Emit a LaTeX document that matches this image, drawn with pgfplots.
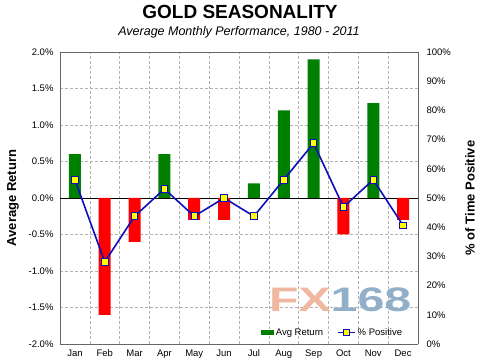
\documentclass[border=0pt]{standalone}
\usepackage{pgfplots}
\pgfplotsset{compat=1.18}
\usepackage{fontspec}
\setmainfont{Liberation Sans}
\definecolor{bargreen}{RGB}{0,128,0}
\definecolor{barred}{RGB}{255,0,0}
\definecolor{linblue}{RGB}{15,15,185}
\definecolor{mkyellow}{RGB}{255,255,0}
\definecolor{fxsalmon}{RGB}{240,184,160}
\definecolor{fxblue}{RGB}{145,175,200}
\begin{document}
\begin{tikzpicture}
\path[use as bounding box] (0pt,0pt) rectangle (485pt,363pt);
\node[font=\fontsize{19}{19}\selectfont\bfseries] at (240pt,351pt) {GOLD SEASONALITY};
\node[font=\fontsize{12.5}{13}\selectfont\itshape] at (239pt,331pt) {Average Monthly Performance, 1980 - 2011};
\begin{axis}[
  at={(60pt,19pt)}, anchor=south west,
  scale only axis, width=358pt, height=292pt,
  xmin=0.5, xmax=12.5, ymin=-2, ymax=2,
  axis y line*=left,
  xtick={1,...,12},
  xticklabels={Jan,Feb,Mar,Apr,May,Jun,Jul,Aug,Sep,Oct,Nov,Dec},
  minor xtick={1.5,2.5,...,11.5},
  xmajorgrids=false, xminorgrids=true,
  major tick length=0pt, minor tick length=0pt,
  ytick={-2,-1.5,...,2},
  yticklabels={-2.0\%,-1.5\%,-1.0\%,-0.5\%,0.0\%,0.5\%,1.0\%,1.5\%,2.0\%},
  ymajorgrids=true,
  grid style={gray!60, densely dashed, line width=0.4pt},
  minor grid style={gray!60, densely dashed, line width=0.4pt},
  axis line style={gray!80!black, line width=0.8pt},
  tick label style={font=\fontsize{9.5}{10}\selectfont},
  xticklabel style={yshift=-2pt},
  yticklabel style={xshift=-3pt},
  ylabel={Average Return},
  ylabel style={font=\fontsize{13}{13}\selectfont\bfseries, at={(axis description cs:-0.131,0.5)}, anchor=center},
  extra y ticks={0}, extra y tick labels={},
  extra y tick style={grid=major, major grid style={black, solid, line width=0.7pt}},
  legend style={draw=none, fill=none, font=\fontsize{9.5}{10}\selectfont, legend columns=2,
    at={(rel axis cs:0.97,0.01)}, anchor=south east,
    /tikz/every even column/.append style={column sep=12pt}},
  legend image code/.code={\draw[fill=bargreen, draw=none] (0pt,-2.5pt) rectangle (13pt,2.5pt);},
]
\addplot[ybar, bar width=12pt, fill=bargreen, draw=none] coordinates {(1,0.6) (4,0.6) (7,0.2) (8,1.2) (9,1.9) (11,1.3)};
\addlegendentry{Avg Return}
\addplot[ybar, bar width=12pt, fill=barred, draw=none, forget plot] coordinates {(2,-1.6) (3,-0.6) (5,-0.3) (6,-0.3) (10,-0.5) (12,-0.3)};
\node[anchor=center, font=\fontsize{34}{34}\selectfont\bfseries, xscale=1.42] at (axis cs:9.89,-1.40) {\textcolor{fxsalmon}{FX}\textcolor{fxblue}{168}};
\addlegendimage{linblue, legend image code/.code={\draw[linblue, line width=1.5pt] (0pt,0pt) -- (17pt,0pt); \draw[fill=mkyellow, draw=linblue, line width=0.8pt] (5pt,-3pt) rectangle (11pt,3pt);}}
\addlegendentry{\% Positive}
\end{axis}
\begin{axis}[
  at={(60pt,19pt)}, anchor=south west,
  scale only axis, width=358pt, height=292pt,
  xmin=0.5, xmax=12.5, ymin=0, ymax=100,
  axis y line*=right, axis x line=none,
  ytick={0,10,...,100},
  yticklabels={0\%,10\%,20\%,30\%,40\%,50\%,60\%,70\%,80\%,90\%,100\%},
  major tick length=0pt,
  axis line style={gray!80!black, line width=0.8pt},
  tick label style={font=\fontsize{9.5}{10}\selectfont},
  yticklabel style={xshift=5pt},
  ylabel={\% of Time Positive},
  ylabel style={font=\fontsize{13}{13}\selectfont\bfseries, at={(axis description cs:1.145,0.5)}, anchor=center},
  clip=false,
]
\addplot[linblue, line width=1.6pt, mark=square*, mark options={fill=mkyellow, draw=linblue, line width=0.9pt, solid}, mark size=3.3pt]
coordinates {(1,56.25) (2,28.1) (3,43.75) (4,53.1) (5,43.75) (6,50) (7,43.75) (8,56.25) (9,68.75) (10,46.9) (11,56.25) (12,40.6)};
\end{axis}
\end{tikzpicture}
\end{document}
